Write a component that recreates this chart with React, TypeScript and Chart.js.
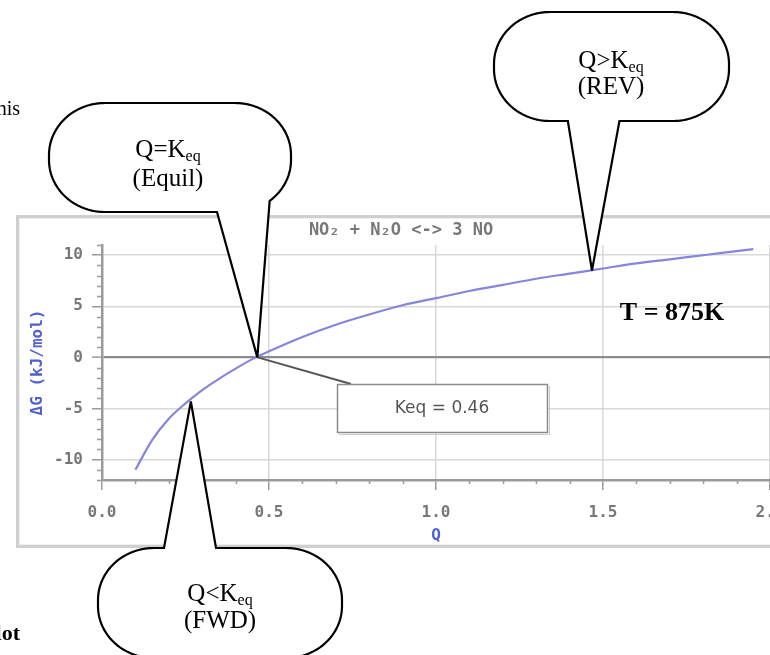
import React, { useEffect, useRef } from "react";
import { Chart, registerables } from "chart.js";

Chart.register(...registerables);

// ---- data ----
const qValues = [0.1, 0.15, 0.2, 0.25, 0.3, 0.35, 0.4, 0.46, 0.5, 0.6, 0.7, 0.8, 0.9, 1.0, 1.1, 1.2, 1.3, 1.4, 1.5, 1.6, 1.7, 1.8, 1.9, 1.95];
const deltaG = [-11.0, -8.1, -6.0, -4.5, -3.2, -2.1, -1.1, 0.0, 0.6, 2.0, 3.2, 4.2, 5.1, 5.8, 6.5, 7.1, 7.7, 8.2, 8.7, 9.2, 9.6, 10.0, 10.4, 10.6];

const xTicks = [0, 0.5, 1.0, 1.5, 2.0];
const xTickLabels = ["0.0", "0.5", "1.0", "1.5", "2.0"];
const yTicks = [-10, -5, 0, 5, 10];
const yTickLabels = ["-10", "-5", "0", "5", "10"];

const keqValue = 0.46;
const keqLabel = "Keq = 0.46";
const chartTitle = "NO\u2082 + N\u2082O <-> 3 NO";
const tempLabel = "T = 875K";

// callout anchors (data space): Equil, REV, FWD
const calloutQ = [0.465, 1.467, 0.266];
const calloutG = [0, 8.5, -4.3];
const calloutLine1 = ["Q=K", "Q>K", "Q<K"];
const calloutLine2 = ["(Equil)", "(REV)", "(FWD)"];

// ---- layout / style constants ----
const MONO = '"DejaVu Sans Mono", monospace';
const SERIF = '"Liberation Serif", "Times New Roman", serif';
const TICK_COLOR = "#777777";
const AXIS_BLUE = "#5060d0";

type Pt = { x: number; y: number };
type Bubble = { x: number; y: number; w: number; h: number; rx: number; ry: number; base: Pt[]; tx: number; b1: number; b2: number };

const bubbles: Bubble[] = [
  { x: 49, y: 103, w: 242, h: 109, rx: 56, ry: 52, base: [{ x: 217, y: 212 }, { x: 270, y: 200 }], tx: 168, b1: 157, b2: 186 },
  { x: 494, y: 12, w: 235, h: 109, rx: 56, ry: 52, base: [{ x: 567, y: 121 }, { x: 620, y: 121 }], tx: 611, b1: 68, b2: 94 },
  { x: 98, y: 548, w: 244, h: 110, rx: 56, ry: 52, base: [{ x: 165, y: 548 }, { x: 217, y: 548 }], tx: 220, b1: 601, b2: 628 },
];

function perimeter(x: number, y: number, w: number, h: number, rx: number, ry: number): Pt[] {
  const pts: Pt[] = [];
  const N = 40;
  const edge = (x0: number, y0: number, x1: number, y1: number) => {
    const len = Math.hypot(x1 - x0, y1 - y0);
    const m = Math.max(1, Math.ceil(len / 2));
    for (let i = 1; i < m; i++) pts.push({ x: x0 + ((x1 - x0) * i) / m, y: y0 + ((y1 - y0) * i) / m });
  };
  const corner = (cx: number, cy: number, a0: number, a1: number) => {
    for (let i = 0; i <= N; i++) {
      const a = a0 + ((a1 - a0) * i) / N;
      pts.push({ x: cx + rx * Math.cos(a), y: cy + ry * Math.sin(a) });
    }
  };
  edge(x + rx, y, x + w - rx, y);
  corner(x + w - rx, y + ry, -Math.PI / 2, 0);
  edge(x + w, y + ry, x + w, y + h - ry);
  corner(x + w - rx, y + h - ry, 0, Math.PI / 2);
  edge(x + w - rx, y + h, x + rx, y + h);
  corner(x + rx, y + h - ry, Math.PI / 2, Math.PI);
  edge(x, y + h - ry, x, y + ry);
  corner(x + rx, y + ry, Math.PI, 1.5 * Math.PI);
  return pts;
}

function drawBubble(ctx: CanvasRenderingContext2D, b: Bubble, tip: Pt) {
  const pts = perimeter(b.x, b.y, b.w, b.h, b.rx, b.ry);
  const n = pts.length;
  const near = (p: Pt) => {
    let bi = 0;
    let bd = Infinity;
    pts.forEach((q, i) => {
      const d = (q.x - p.x) ** 2 + (q.y - p.y) ** 2;
      if (d < bd) {
        bd = d;
        bi = i;
      }
    });
    return bi;
  };
  let iA = near(b.base[0]);
  let iB = near(b.base[1]);
  if ((iB - iA + n) % n < n / 2) {
    const t = iA;
    iA = iB;
    iB = t;
  }
  ctx.beginPath();
  ctx.moveTo(pts[iA].x, pts[iA].y);
  for (let i = (iA + 1) % n; i !== iB; i = (i + 1) % n) ctx.lineTo(pts[i].x, pts[i].y);
  ctx.lineTo(pts[iB].x, pts[iB].y);
  ctx.lineTo(tip.x, tip.y);
  ctx.closePath();
  ctx.fillStyle = "#ffffff";
  ctx.fill();
  ctx.strokeStyle = "#000000";
  ctx.lineWidth = 2.2;
  ctx.lineJoin = "miter";
  ctx.miterLimit = 4;
  ctx.stroke();
}

function drawKeqLine(ctx: CanvasRenderingContext2D, prefix: string, cx: number, baseline: number, size: number) {
  const main = `${size}px ${SERIF}`;
  const sub = `${Math.round(size * 0.62)}px ${SERIF}`;
  ctx.font = main;
  const w1 = ctx.measureText(prefix).width;
  ctx.font = sub;
  const w2 = ctx.measureText("eq").width;
  const x0 = cx - (w1 + w2) / 2;
  ctx.textAlign = "left";
  ctx.textBaseline = "alphabetic";
  ctx.font = main;
  ctx.fillText(prefix, x0, baseline);
  ctx.font = sub;
  ctx.fillText("eq", x0 + w1, baseline + size * 0.16);
}

const overlayPlugin = {
  id: "overlay",
  beforeDraw(chart: any) {
    const ctx: CanvasRenderingContext2D = chart.ctx;
    ctx.save();
    ctx.fillStyle = "#ffffff";
    ctx.fillRect(0, 0, chart.width, chart.height);
    // panel frame
    ctx.strokeStyle = "#cfcfcf";
    ctx.lineWidth = 3;
    ctx.strokeRect(17.5, 216.5, 840, 330);
    ctx.strokeStyle = "#eeeeee";
    ctx.lineWidth = 1;
    ctx.strokeRect(19.5, 218.5, 840, 326);
    ctx.restore();
  },
  afterDraw(chart: any) {
    const ctx: CanvasRenderingContext2D = chart.ctx;
    const xs = chart.scales.x;
    const ys = chart.scales.y;
    const area = chart.chartArea;
    ctx.save();

    // minor ticks
    ctx.strokeStyle = "#9a9a9a";
    ctx.lineWidth = 1.5;
    ctx.beginPath();
    for (let v = -12; v <= 11; v++) {
      if (v % 5 === 0) continue;
      const py = Math.round(ys.getPixelForValue(v)) + 0.5;
      ctx.moveTo(area.left - 5, py);
      ctx.lineTo(area.left, py);
    }
    for (let k = 1; k < 20; k++) {
      if (k % 5 === 0) continue;
      const px = Math.round(xs.getPixelForValue(k / 10)) + 0.5;
      ctx.moveTo(px, area.bottom);
      ctx.lineTo(px, area.bottom + 4);
    }
    ctx.stroke();

    // chart title
    ctx.fillStyle = TICK_COLOR;
    ctx.font = `bold 17px ${MONO}`;
    ctx.textAlign = "center";
    ctx.textBaseline = "middle";
    ctx.fillText(chartTitle, 401, 231);

    // temperature label
    ctx.fillStyle = "#000000";
    ctx.font = `bold 26px ${SERIF}`;
    ctx.textAlign = "center";
    ctx.textBaseline = "alphabetic";
    ctx.fillText(tempLabel, 672, 320);

    // Keq leader line + box
    const kx = xs.getPixelForValue(keqValue);
    const ky = ys.getPixelForValue(0);
    ctx.strokeStyle = "#555555";
    ctx.lineWidth = 2;
    ctx.beginPath();
    ctx.moveTo(kx + 2, ky);
    ctx.lineTo(351, 384);
    ctx.stroke();
    ctx.fillStyle = "#ffffff";
    ctx.fillRect(337, 384, 211, 49);
    ctx.strokeStyle = "#8a8a8a";
    ctx.lineWidth = 1.5;
    ctx.strokeRect(337.5, 384.5, 210, 48);
    ctx.strokeStyle = "#cccccc";
    ctx.lineWidth = 1;
    ctx.beginPath();
    ctx.moveTo(549.5, 386);
    ctx.lineTo(549.5, 434.5);
    ctx.lineTo(339, 434.5);
    ctx.stroke();
    ctx.fillStyle = "#555555";
    ctx.font = `17px "DejaVu Sans", sans-serif`;
    ctx.textAlign = "center";
    ctx.textBaseline = "middle";
    ctx.fillText(keqLabel, 442, 409);

    // callout bubbles
    bubbles.forEach((b, i) => {
      const tip = { x: xs.getPixelForValue(calloutQ[i]), y: ys.getPixelForValue(calloutG[i]) };
      drawBubble(ctx, b, tip);
      ctx.fillStyle = "#000000";
      drawKeqLine(ctx, calloutLine1[i], b.tx, b.b1, 25);
      ctx.font = `25px ${SERIF}`;
      ctx.textAlign = "center";
      ctx.textBaseline = "alphabetic";
      ctx.fillText(calloutLine2[i], b.tx, b.b2);
    });

    // surrounding page text (cut off at the left edge)
    ctx.fillStyle = "#000000";
    ctx.textAlign = "right";
    ctx.textBaseline = "alphabetic";
    ctx.font = `20px ${SERIF}`;
    ctx.fillText("this", 20, 115);
    ctx.font = `bold 22px ${SERIF}`;
    ctx.fillText("plot", 20, 640);

    ctx.restore();
  },
};

export default function App() {
  const ref = useRef<HTMLCanvasElement>(null);

  useEffect(() => {
    if (!ref.current) return;
    const chart = new Chart(ref.current, {
      type: "line",
      data: {
        datasets: [
          {
            label: "ΔG",
            data: qValues.map((q, i) => ({ x: q, y: deltaG[i] })),
            borderColor: "#8585dc",
            borderWidth: 2.2,
            pointRadius: 0,
            fill: false,
            cubicInterpolationMode: "monotone",
          },
        ],
      },
      options: {
        responsive: false,
        animation: false,
        devicePixelRatio: 1,
        layout: { padding: { left: 17, right: 30, top: 245, bottom: 110 } },
        plugins: {
          legend: { display: false },
          tooltip: { enabled: false },
          title: { display: false },
        },
        scales: {
          x: {
            type: "linear",
            min: 0,
            max: 2,
            afterBuildTicks: (axis: any) => {
              axis.ticks = xTicks.map((v) => ({ value: v }));
            },
            afterFit: (s: any) => {
              s.height = 65;
            },
            ticks: {
              callback: (_v: any, i: number) => xTickLabels[i],
              font: { family: MONO, size: 16, weight: "bold" },
              color: TICK_COLOR,
              padding: 13,
              maxRotation: 0,
              autoSkip: false,
            },
            grid: {
              color: "#d8d8d8",
              lineWidth: 1.5,
              tickColor: "#9a9a9a",
              tickWidth: 1.5,
              tickLength: 10,
            },
            border: { color: "#9a9a9a", width: 2.5 },
            title: {
              display: true,
              text: "Q",
              color: AXIS_BLUE,
              font: { family: MONO, size: 16, weight: "bold" },
              padding: { top: 0, bottom: 0 },
            },
          },
          y: {
            type: "linear",
            min: -12,
            max: 11,
            afterBuildTicks: (axis: any) => {
              axis.ticks = yTicks.map((v) => ({ value: v }));
            },
            afterFit: (s: any) => {
              s.width = 85;
            },
            ticks: {
              callback: (_v: any, i: number) => yTickLabels[i],
              font: { family: MONO, size: 16, weight: "bold" },
              color: TICK_COLOR,
              padding: 9,
              autoSkip: false,
            },
            grid: {
              color: (c: any) => (c.tick && c.tick.value === 0 ? "#8c8c8c" : "#d8d8d8"),
              lineWidth: (c: any) => (c.tick && c.tick.value === 0 ? 2.2 : 1.5),
              tickColor: "#9a9a9a",
              tickWidth: 1.5,
              tickLength: 10,
            },
            border: { color: "#9a9a9a", width: 2.5 },
            title: {
              display: true,
              text: "ΔG (kJ/mol)",
              color: AXIS_BLUE,
              font: { family: MONO, size: 16, weight: "bold" },
              padding: { top: 11, bottom: 0 },
            },
          },
        },
      },
      plugins: [overlayPlugin],
    } as any);
    return () => chart.destroy();
  }, []);

  return (
    <div style={{ position: "fixed", left: 0, top: 0, width: 770, height: 655, overflow: "hidden", background: "#ffffff" }}>
      <canvas ref={ref} width={800} height={655} style={{ display: "block", width: 800, height: 655 }} />
    </div>
  );
}
